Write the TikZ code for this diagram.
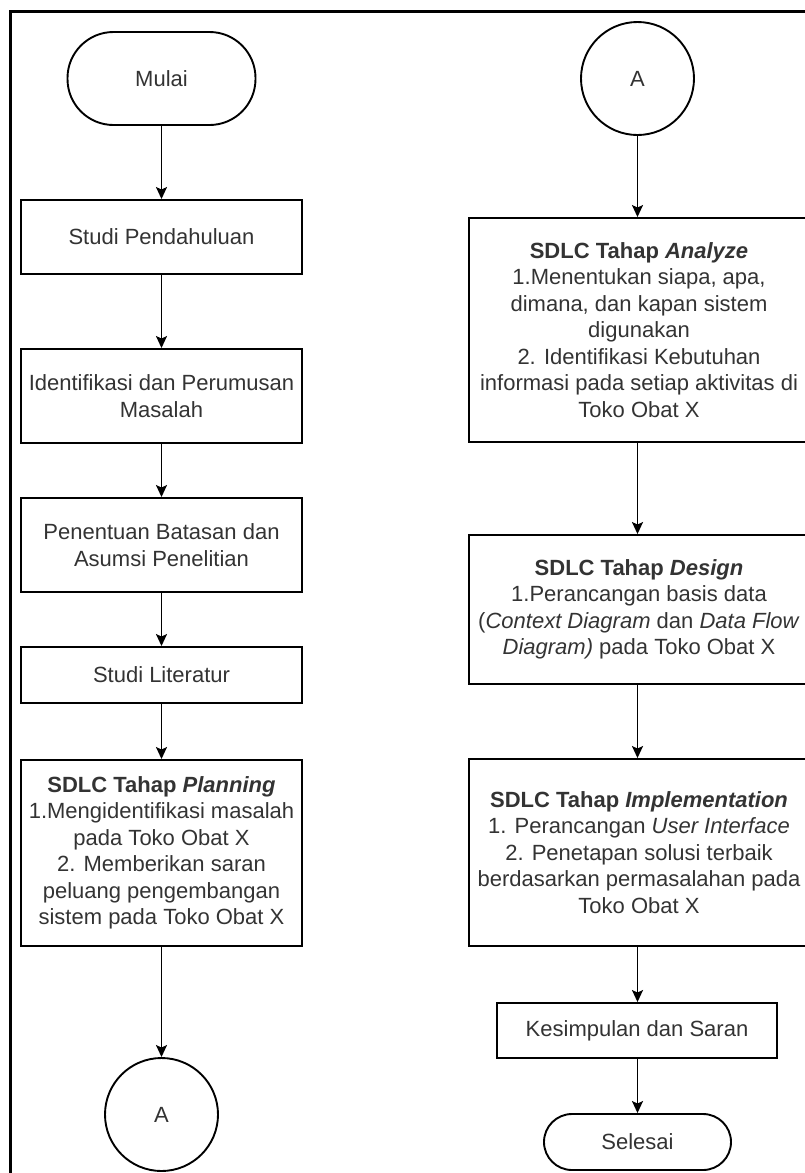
\documentclass[tikz,border=0pt]{standalone}
\usepackage{fontspec}
\setmainfont{Liberation Sans}
\usetikzlibrary{arrows.meta}
\definecolor{txt}{HTML}{333333}
\begin{document}
\begin{tikzpicture}[x=1pt,y=-1pt,
  every node/.style={text=txt,font=\fontsize{22}{26.5}\selectfont,align=center,inner sep=0pt},
  procbox/.style={draw=black,line width=1.9pt,rectangle,minimum width=281pt},
  termbox/.style={draw=black,line width=1.9pt,rectangle},
  conn/.style={draw=black,line width=1.9pt,circle,minimum size=113pt},
  flow/.style={line width=1.9pt,-{Stealth[length=12pt,width=11pt,inset=2.5pt]}}
]
\useasboundingbox (0,0) rectangle (804,1173);
\draw[line width=3pt] (10,1180) -- (10,11) -- (812,11);

% left column
\node[termbox,minimum width=188pt,minimum height=93pt,rounded corners=46pt] (mulai) at (161.5,78.5) {Mulai};
\node[procbox,minimum height=74pt] (studi) at (161.5,237) {Studi Pendahuluan};
\node[procbox,minimum height=94pt] (ident) at (161.5,396) {Identifikasi dan Perumusan\\Masalah};
\node[procbox,minimum height=94pt] (batas) at (161.5,545) {Penentuan Batasan dan\\Asumsi Penelitian};
\node[procbox,minimum height=56pt] (lit) at (161.5,675) {Studi Literatur};
\node[procbox,minimum height=186pt] (plan) at (161.5,853) {\textbf{SDLC Tahap \textit{Planning}}\\1.Mengidentifikasi masalah\\pada Toko Obat X\\2. Memberikan saran\\peluang pengembangan\\sistem pada Toko Obat X};
\node[conn] (a1) at (161.5,1114.5) {A};

% right column
\node[conn] (a2) at (637.5,78.5) {A};
\node[procbox,minimum width=340pt,minimum height=224pt] (analyze) at (639,330) {\textbf{SDLC Tahap \textit{Analyze}}\\1.Menentukan siapa, apa,\\dimana, dan kapan sistem\\digunakan\\2. Identifikasi Kebutuhan\\informasi pada setiap aktivitas di\\Toko Obat X};
\node[procbox,minimum width=340pt,minimum height=149pt] (design) at (639,609.5) {\textbf{SDLC Tahap \textit{Design}}\\1.Perancangan basis data\\(\textit{Context Diagram} dan \textit{Data Flow}\\\textit{Diagram)} pada Toko Obat X};
\node[procbox,minimum width=340pt,minimum height=187pt] (impl) at (639,852.5) {\textbf{SDLC Tahap \textit{Implementation}}\\1. Perancangan \textit{User Interface}\\2. Penetapan solusi terbaik\\berdasarkan permasalahan pada\\Toko Obat X};
\node[procbox,minimum width=280pt,minimum height=55pt] (kes) at (637,1030.5) {Kesimpulan dan Saran};
\node[termbox,minimum width=187pt,minimum height=56pt,rounded corners=28pt] (selesai) at (637.5,1142) {Selesai};

% connectors
\draw[flow] (mulai) -- (studi);
\draw[flow] (studi) -- (ident);
\draw[flow] (ident) -- (batas);
\draw[flow] (batas) -- (lit);
\draw[flow] (lit) -- (plan);
\draw[flow] (plan) -- (a1);
\draw[flow] (a2) -- (a2 |- analyze.north);
\draw[flow] (analyze.south -| a2) -- (a2 |- design.north);
\draw[flow] (design.south -| a2) -- (a2 |- impl.north);
\draw[flow] (impl.south -| a2) -- (a2 |- kes.north);
\draw[flow] (kes.south -| a2) -- (selesai);
\end{tikzpicture}
\end{document}
